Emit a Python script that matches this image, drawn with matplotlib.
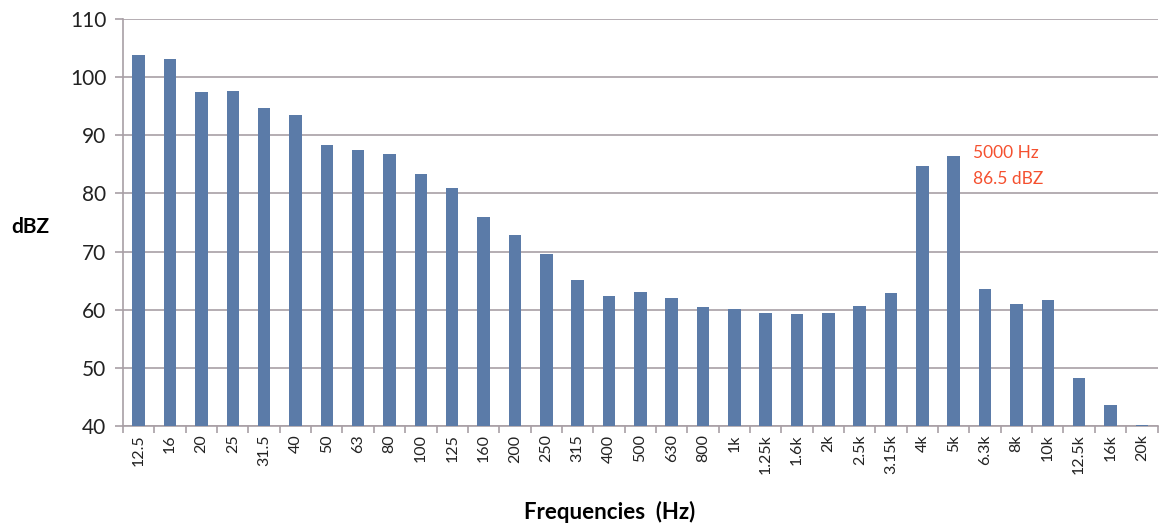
import numpy as np
import matplotlib
matplotlib.use('Agg')
import matplotlib.pyplot as plt

plt.rcParams['font.family'] = ['Lato', 'DejaVu Sans']

# Third-octave band centre frequencies
bands = ['12.5', '16', '20', '25', '31.5', '40', '50', '63', '80', '100', '125',
         '160', '200', '250', '315', '400', '500', '630', '800', '1k', '1.25k',
         '1.6k', '2k', '2.5k', '3.15k', '4k', '5k', '6.3k', '8k', '10k',
         '12.5k', '16k', '20k']

# Level per band (dBZ)
levels = [103.8, 103.1, 97.4, 97.6, 94.7, 93.5, 88.3, 87.5, 86.8, 83.3, 80.9,
          75.9, 72.8, 69.6, 65.1, 62.3, 63.1, 62.0, 60.5, 60.1, 59.4,
          59.3, 59.4, 60.7, 62.9, 84.7, 86.5, 63.6, 61.0, 61.6,
          48.3, 43.6, 40.2]

peak_label = '5000 Hz\n86.5 dBZ'
peak_idx = bands.index('5k')

bar_color = '#5B7BA8'
grid_color = '#A89FA5'

fig = plt.figure(figsize=(11.61, 5.28), dpi=100)
ax = fig.add_axes([0.106, 0.193, 0.891, 0.771])

x = np.arange(len(bands))
ax.bar(x, np.array(levels) - 40, bottom=40, width=0.4, color=bar_color, zorder=3)

ax.set_xlim(-0.5, len(bands) - 0.5)
ax.set_ylim(40, 110)
ax.set_yticks(np.arange(40, 111, 10))
ax.yaxis.grid(True, color=grid_color, linewidth=1.2, zorder=0)

ax.set_xticks(x)
ax.set_xticklabels(bands, rotation=90, fontsize=11.5, color='#222222')
ax.set_xticks(np.arange(-0.5, len(bands), 1), minor=True)
ax.tick_params(axis='x', which='major', length=0, pad=6)
ax.tick_params(axis='x', which='minor', length=5, color=grid_color, width=1.2)
ax.tick_params(axis='y', length=6, color=grid_color, width=1.2, labelsize=15,
               labelcolor='#222222', pad=6)

for side in ['top', 'right']:
    ax.spines[side].set_visible(False)
ax.spines['left'].set_color(grid_color)
ax.spines['bottom'].set_color(grid_color)
ax.spines['left'].set_linewidth(1.2)
ax.spines['bottom'].set_linewidth(1.2)

ax.set_ylabel('dBZ', fontsize=15, fontweight='bold', rotation=0, va='center', ha='center')
ax.yaxis.set_label_coords(-0.09, 0.49)
ax.set_xlabel('Frequencies  (Hz)', fontsize=16, fontweight='bold', va='center')
ax.xaxis.set_label_coords(0.47, -0.212)

ax.text(peak_idx + 0.6, 88.3, peak_label, color='#F5502F', fontsize=12.5,
        va='top', ha='left', linespacing=1.75)

fig.savefig('out.png', dpi=100)
